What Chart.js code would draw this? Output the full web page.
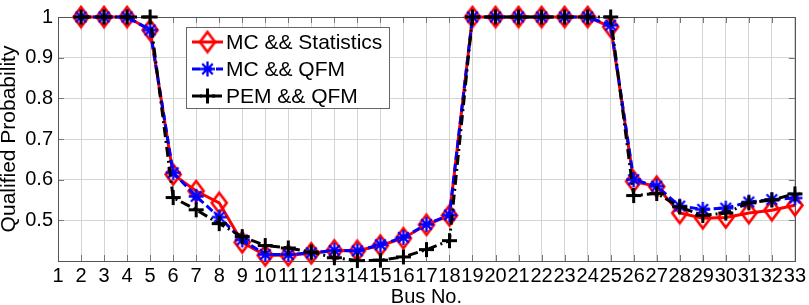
<!DOCTYPE html>
<html>
<head>
<meta charset="utf-8">
<script src="https://cdn.jsdelivr.net/npm/chart.js@4/dist/chart.umd.min.js"></script>
<style>
  html, body { margin: 0; padding: 0; background: #fff; }
</style>
</head>
<body>
<canvas id="busChart" width="809" height="305"></canvas>
<script>
//-----------------DATA-----------------------------
var buses = [2, 3, 4, 5, 6, 7, 8, 9, 10, 11, 12, 13, 14, 15, 16, 17, 18, 19, 20, 21, 22, 23, 24, 25, 26, 27, 28, 29, 30, 31, 32, 33];
var mcStat = [1, 1, 1, 0.968, 0.613, 0.572, 0.543, 0.446, 0.414, 0.414, 0.419, 0.426, 0.425, 0.438, 0.456, 0.489, 0.512,
              1, 1, 1, 1, 1, 1, 0.976, 0.596, 0.583, 0.518, 0.505, 0.507, 0.518, 0.525, 0.537];
var mcQfm = [1, 1, 1, 0.968, 0.617, 0.559, 0.508, 0.452, 0.416, 0.416, 0.420, 0.426, 0.425, 0.440, 0.458, 0.490, 0.513,
             1, 1, 1, 1, 1, 1, 0.980, 0.600, 0.584, 0.535, 0.527, 0.530, 0.545, 0.551, 0.555];
var pemQfm = [1, 1, 1, 1, 0.556, 0.526, 0.492, 0.460, 0.438, 0.432, 0.422, 0.408, 0.401, 0.402, 0.410, 0.428, 0.450,
              1, 1, 1, 1, 1, 1, 1, 0.561, 0.566, 0.533, 0.512, 0.518, 0.543, 0.550, 0.565];
var seriesNames = ['MC && Statistics', 'MC && QFM', 'PEM && QFM'];

var FONT = "'Liberation Sans', Arial, Helvetica, sans-serif";

//-----------------MARKERS-----------------------------
function makeDiamond() {
  var c = document.createElement('canvas');
  c.width = 20; c.height = 25;
  var g = c.getContext('2d');
  g.strokeStyle = '#ff0000';
  g.lineWidth = 2.6;
  g.beginPath();
  g.moveTo(10, 2.5); g.lineTo(17.5, 12.5); g.lineTo(10, 22.5); g.lineTo(2.5, 12.5);
  g.closePath();
  g.stroke();
  return c;
}

function makeStar() {
  var c = document.createElement('canvas');
  c.width = 19; c.height = 19;
  var g = c.getContext('2d');
  g.strokeStyle = '#0000ff';
  g.lineWidth = 2.3;
  g.beginPath();
  for (var i = 0; i < 4; i++) {
    var a = i * Math.PI / 4;
    g.moveTo(9.5 - Math.cos(a) * 7.5, 9.5 - Math.sin(a) * 7.5);
    g.lineTo(9.5 + Math.cos(a) * 7.5, 9.5 + Math.sin(a) * 7.5);
  }
  g.stroke();
  return c;
}

function makePlus() {
  var c = document.createElement('canvas');
  c.width = 17; c.height = 17;
  var g = c.getContext('2d');
  g.strokeStyle = '#000000';
  g.lineWidth = 3;
  g.beginPath();
  g.moveTo(1, 8.5); g.lineTo(16, 8.5);
  g.moveTo(8.5, 1); g.lineTo(8.5, 16);
  g.stroke();
  return c;
}

var diamond = makeDiamond();
var star = makeStar();
var plus = makePlus();

function toPoints(vals) {
  return buses.map(function(b, i) { return { x: b, y: vals[i] }; });
}

//-----------------PLUGINS-----------------------------
// box round the axes and small inward ticks like matlab
var axesBox = {
  id: 'axesBox',
  beforeDatasetsDraw: function(chart) {
    var ctx = chart.ctx, a = chart.chartArea;
    var xs = chart.scales.x, ys = chart.scales.y;
    ctx.save();
    ctx.strokeStyle = '#777';
    ctx.lineWidth = 1;
    ctx.beginPath();
    for (var b = 1; b <= 33; b++) {
      var px = Math.round(xs.getPixelForValue(b)) + 0.5;
      ctx.moveTo(px, a.bottom); ctx.lineTo(px, a.bottom - 6);
      ctx.moveTo(px, a.top); ctx.lineTo(px, a.top + 6);
    }
    for (var v = 4; v <= 10; v++) {
      var py = Math.round(ys.getPixelForValue(v / 10)) + 0.5;
      ctx.moveTo(a.left, py); ctx.lineTo(a.left + 6, py);
      ctx.moveTo(a.right, py); ctx.lineTo(a.right - 6, py);
    }
    ctx.stroke();
    ctx.strokeStyle = '#555';
    ctx.strokeRect(Math.round(a.left) + 0.5, Math.round(a.top) + 0.5,
                   Math.round(a.right - a.left), Math.round(a.bottom - a.top));
    ctx.restore();
  }
};

// legend drawn inside the plot, top left
var innerLegend = {
  id: 'innerLegend',
  afterDraw: function(chart) {
    var ctx = chart.ctx, a = chart.chartArea;
    var left = a.left + 128, top = a.top + 10, w = 203, h = 81;
    ctx.save();
    ctx.fillStyle = '#fff';
    ctx.fillRect(left, top, w, h);
    ctx.strokeStyle = '#666';
    ctx.lineWidth = 1;
    ctx.strokeRect(left + 0.5, top + 0.5, w, h);
    ctx.font = '21px ' + FONT;
    ctx.textBaseline = 'middle';
    chart.data.datasets.forEach(function(ds, i) {
      var y = top + 15 + i * 27;
      ctx.strokeStyle = ds.borderColor;
      ctx.lineWidth = ds.borderWidth;
      ctx.setLineDash(ds.borderDash || []);
      ctx.beginPath();
      ctx.moveTo(left + 6, y); ctx.lineTo(left + 37, y);
      ctx.stroke();
      ctx.setLineDash([]);
      var m = ds.pointStyle;
      ctx.drawImage(m, left + 21.5 - m.width / 2, y - m.height / 2);
      ctx.fillStyle = '#000';
      ctx.fillText(seriesNames[i], left + 40, y + 1);
    });
    ctx.restore();
  }
};

//-----------------CREATE CHART-----------------------------
var busChart = new Chart(document.getElementById('busChart'), {
  type: 'line',
  data: {
    datasets: [{
      label: seriesNames[0],
      data: toPoints(mcStat),
      borderColor: '#ff0000',
      borderWidth: 3,
      pointStyle: diamond,
      pointRadius: 5,
      order: 3,
      clip: false
    }, {
      label: seriesNames[1],
      data: toPoints(mcQfm),
      borderColor: '#0000ff',
      borderWidth: 3,
      borderDash: [8, 4],
      pointStyle: star,
      pointRadius: 5,
      order: 2,
      clip: false
    }, {
      label: seriesNames[2],
      data: toPoints(pemQfm),
      borderColor: '#000000',
      borderWidth: 3,
      borderDash: [10, 4, 2, 4],
      pointStyle: plus,
      pointRadius: 5,
      order: 1,
      clip: false
    }]
  },
  options: {
    responsive: false,
    animation: false,
    events: [],
    layout: { padding: { top: 12, right: 10, left: 0, bottom: 0 } },
    plugins: { legend: { display: false }, tooltip: { enabled: false } },
    scales: {
      x: {
        type: 'linear',
        min: 1,
        max: 33,
        afterFit: function(s) { s.height = 44; },
        border: { display: false },
        grid: { color: '#d4d4d4', drawTicks: false },
        ticks: {
          stepSize: 1,
          autoSkip: false,
          maxRotation: 0,
          padding: 3,
          color: '#000',
          font: { family: FONT, size: 20 }
        },
        title: {
          display: true,
          text: 'Bus No.',
          color: '#000',
          font: { family: FONT, size: 20, lineHeight: 1 },
          padding: { top: 0, bottom: -2 }
        }
      },
      y: {
        min: 0.4,
        max: 1,
        afterFit: function(s) { s.width = 58; },
        border: { display: false },
        grid: { color: '#d4d4d4', drawTicks: false },
        ticks: {
          stepSize: 0.1,
          padding: 5,
          color: '#000',
          font: { family: FONT, size: 20 },
          callback: function(v) {
            var r = Math.round(v * 10) / 10;
            return r < 0.45 ? '' : String(r);
          }
        },
        title: {
          display: true,
          text: 'Qualified Probability',
          color: '#000',
          font: { family: FONT, size: 21, lineHeight: 1 },
          padding: { top: -1, bottom: 0 }
        }
      }
    }
  },
  plugins: [axesBox, innerLegend]
});
</script>
</body>
</html>
